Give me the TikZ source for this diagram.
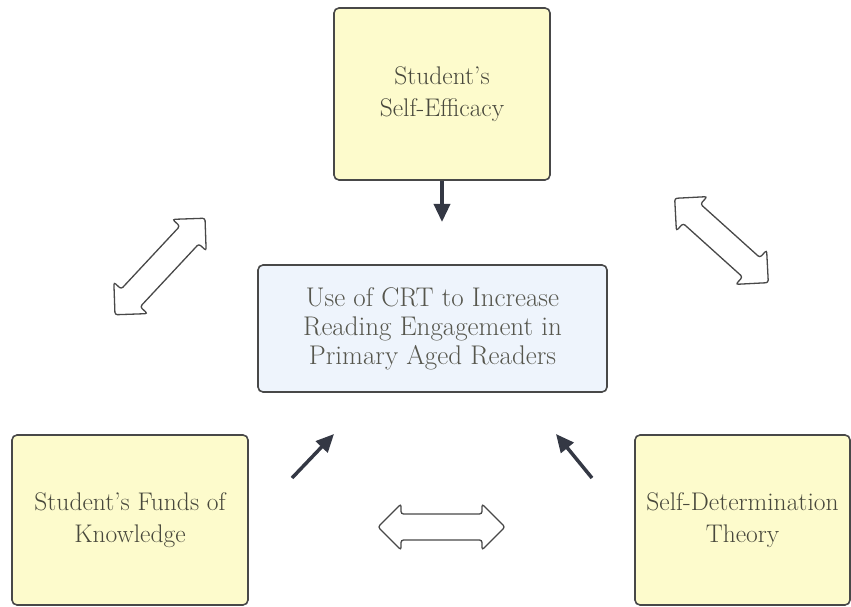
\documentclass[tikz,border=0pt]{standalone}
\usetikzlibrary{arrows.meta}
\definecolor{boxyellow}{RGB}{253,251,204}
\definecolor{boxblue}{RGB}{238,244,252}
\definecolor{boxline}{RGB}{72,72,72}
\definecolor{txtgray}{RGB}{72,72,60}
\definecolor{arrowdark}{RGB}{52,56,68}
\tikzset{
  yellowbox/.style={draw=boxline, line width=1.6pt, fill=boxyellow, rounded corners=5pt,
    align=center, text=txtgray, font=\fontsize{25.5}{32}\selectfont, inner sep=0pt},
  bluebox/.style={yellowbox, fill=boxblue, text=txtgray!75!gray, font=\fontsize{27}{29}\selectfont},
  hollowarrow/.style={draw=boxline, line width=1.3pt, fill=white, rounded corners=2.5pt},
  solidarrow/.style={draw=arrowdark, line width=3.5pt, -{Triangle[length=18pt,width=16pt]}}
}
\begin{document}
\begin{tikzpicture}[x=1pt,y=1pt]
\useasboundingbox (0,0) rectangle (851,607);

% Boxes
\node[yellowbox, minimum width=216pt, minimum height=172pt] (efficacy) at (442,513) {Student's\\Self-Efficacy};
\node[bluebox, minimum width=349pt, minimum height=127pt] (crt) at (432.5,278.5) {Use of CRT to Increase\\Reading Engagement in\\Primary Aged Readers};
\node[yellowbox, minimum width=236pt, minimum height=170pt] (funds) at (130,87) {Student's Funds of\\Knowledge};
\node[yellowbox, minimum width=215pt, minimum height=170pt] (sdt) at (742.5,87) {Self-Determination\\Theory};

% Solid arrows
\coordinate (efficacyend) at (442,385);
\coordinate (fundsfoot) at (292,129);
\coordinate (fundstip) at (334,173);
\coordinate (sdtfoot) at (592,129);
\coordinate (sdttip) at (556,173);
\draw[solidarrow] (efficacy.south) -- (efficacyend);
\draw[solidarrow] (fundsfoot) -- (fundstip);
\draw[solidarrow] (sdtfoot) -- (sdttip);

% Hollow double arrows
\foreach \x/\y/\a/\l in {160/340.5/47/132, 721.5/366.5/-42/126, 441.5/80/0/127} {
  \begin{scope}[shift={(\x,\y)}, rotate=\a]
    \draw[hollowarrow] ({-\l/2},0) -- ({-\l/2+23},23) -- ({-\l/2+23},13) -- ({\l/2-23},13)
      -- ({\l/2-23},23) -- ({\l/2},0) -- ({\l/2-23},-23) -- ({\l/2-23},-13)
      -- ({-\l/2+23},-13) -- ({-\l/2+23},-23) -- cycle;
  \end{scope}
}
\end{tikzpicture}
\end{document}
